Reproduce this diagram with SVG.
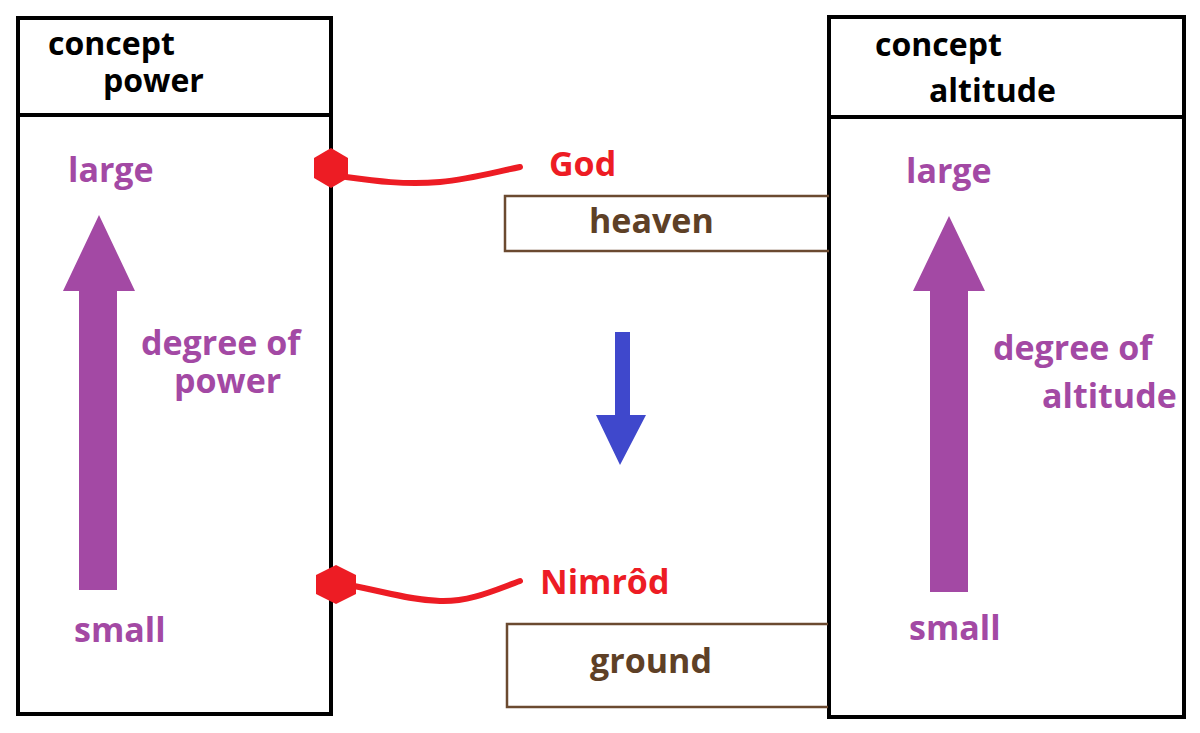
<svg xmlns="http://www.w3.org/2000/svg" width="1200" height="733" viewBox="0 0 1200 733">
<style>
.frame{fill:none;stroke:#000;stroke-width:4}
.hdr{font-family:"Open Sans","Liberation Sans",sans-serif;font-weight:bold;font-size:32px;fill:#000}
.pur{font-family:"Open Sans","Liberation Sans",sans-serif;font-weight:bold;font-size:34px;fill:#a349a4}
.red{font-family:"Open Sans","Liberation Sans",sans-serif;font-weight:bold;font-size:34px;fill:#ed1c24}
.brn{font-family:"Open Sans","Liberation Sans",sans-serif;font-weight:bold;font-size:34px;fill:#5e4026}
.bbox{fill:none;stroke:#6b4a30;stroke-width:2.5}
.parrow{fill:#a349a4}
.link{fill:none;stroke:#ed1c24;stroke-width:6;stroke-linecap:round}
.dot{fill:#ed1c24}
</style>
<rect width="1200" height="733" fill="#fff"/>
<g id="power-concept">
<rect class="frame" x="18" y="18" width="313" height="696"/>
<line class="frame" x1="18" y1="115" x2="333" y2="115"/>
<text class="hdr" x="48" y="55">concept</text>
<text class="hdr" x="103" y="92">power</text>
<text class="pur" x="68" y="182">large</text>
<polygon class="parrow" points="99,215 135,291 117,291 117,590 79,590 79,291 63,291"/>
<text class="pur" x="141" y="355">degree of</text>
<text class="pur" x="174" y="393">power</text>
<text class="pur" x="74" y="642">small</text>
</g>
<g id="altitude-concept">
<rect class="frame" x="829" y="17" width="355" height="700"/>
<line class="frame" x1="829" y1="117" x2="1186" y2="117"/>
<text class="hdr" x="875" y="56">concept</text>
<text class="hdr" x="929" y="102">altitude</text>
<text class="pur" x="906" y="183">large</text>
<polygon class="parrow" points="949,216 985,291 968,291 968,592 930,592 930,291 913,291"/>
<text class="pur" x="993" y="360">degree of</text>
<text class="pur" x="1042" y="408">altitude</text>
<text class="pur" x="909" y="640">small</text>
</g>
<g id="heaven">
<polyline class="bbox" points="829,196 505,196 505,251 829,251"/>
<text class="brn" x="589" y="233">heaven</text>
</g>
<g id="ground">
<polyline class="bbox" points="828,624 507,624 507,707 828,707"/>
<text class="brn" x="590" y="673">ground</text>
</g>
<g id="god">
<text class="red" x="549" y="176">God</text>
</g>
<g id="nimrod">
<text class="red" x="540" y="594">Nimrôd</text>
</g>
<g id="descent">
<polygon fill="#3f48cc" points="615,332 630,332 630,415 646,415 620,465 596,415 615,415"/>
</g>
<g id="connectors">
<polygon class="dot" points="331,148 348,158 348,178 331,188 314,178 314,158"/>
<path class="link" d="M346,177 C375,181 405,185 440,182 C470,179 495,172 520,167"/>
<polygon class="dot" points="336,565 356,575 356,594 336,604 316,594 316,575"/>
<path class="link" d="M354,586 C385,592 410,600 440,601 C470,602 495,590 520,581"/>
</g>
</svg>
